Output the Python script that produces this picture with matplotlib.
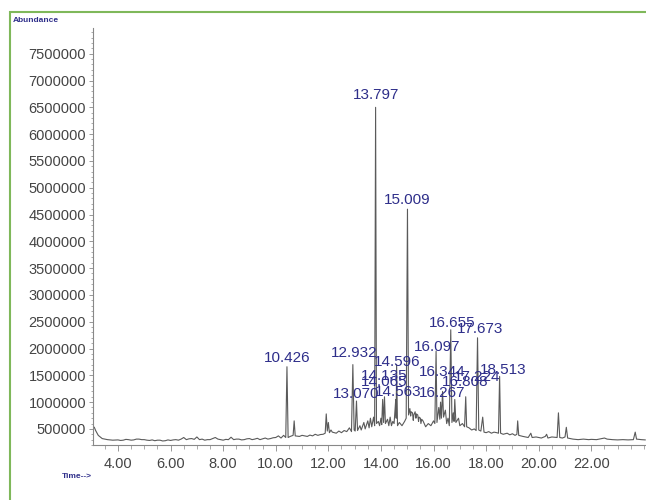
import matplotlib
matplotlib.use("Agg")
import matplotlib.pyplot as plt
from matplotlib.patches import Rectangle
from matplotlib.ticker import MultipleLocator, FixedLocator

# ---- data (time in min, abundance in counts/1000) ----
times = [3.10, 3.15, 3.25, 3.40, 3.6, 3.8, 4.0, 4.1, 4.2, 4.3, 4.4, 4.5, 4.6, 4.7, 4.8, 4.9,
         5.0, 5.1, 5.2, 5.3, 5.4, 5.5, 5.6, 5.7, 5.8, 5.9,
         6.0, 6.1, 6.2, 6.3, 6.4, 6.5, 6.6, 6.7, 6.8, 6.9, 7.0, 7.1, 7.2, 7.3, 7.4, 7.5, 7.6,
         7.7, 7.8, 7.9, 8.0, 8.1, 8.2, 8.3, 8.4, 8.5, 8.6, 8.7,
         8.8, 8.9, 9.0, 9.1, 9.2, 9.3, 9.4, 9.5, 9.6, 9.7, 9.8, 9.9, 10.0, 10.1, 10.2, 10.3,
         10.38, 10.426, 10.47, 10.55,
         10.66, 10.7, 10.74, 10.9, 11.0, 11.1, 11.2, 11.3, 11.4, 11.5, 11.6, 11.7, 11.8, 11.88,
         11.92, 11.96,
         12.0, 12.04, 12.1, 12.15, 12.3, 12.4, 12.5, 12.6, 12.7, 12.8, 12.88, 12.932, 12.98,
         13.02, 13.07, 13.11, 13.2, 13.25, 13.35, 13.4, 13.5, 13.55, 13.6, 13.65, 13.72, 13.76,
         13.797, 13.83, 13.9, 13.95, 14.0, 14.03, 14.065, 14.1, 14.135, 14.17, 14.25, 14.3,
         14.35, 14.4, 14.45, 14.5, 14.563, 14.58, 14.596, 14.63, 14.7, 14.8, 14.9, 14.96,
         15.009, 15.05, 15.1, 15.13, 15.15, 15.2, 15.23, 15.25, 15.3, 15.33, 15.35, 15.4,
         15.43, 15.45, 15.5, 15.52, 15.55, 15.6,
         15.7, 15.8, 15.9, 16.0, 16.05, 16.097, 16.13, 16.2, 16.24, 16.267, 16.3, 16.344,
         16.38, 16.45, 16.5, 16.55, 16.6, 16.655, 16.7, 16.75, 16.78, 16.808, 16.85, 16.95,
         17.0, 17.1, 17.18, 17.224, 17.26, 17.35, 17.45, 17.55, 17.62, 17.673, 17.72, 17.8,
         17.87, 17.92, 18.0, 18.1, 18.2, 18.3, 18.4, 18.47, 18.513, 18.55, 18.65, 18.8, 18.9,
         19.0, 19.1, 19.17, 19.2, 19.24, 19.4, 19.6, 19.7, 19.75, 19.9, 20.1, 20.25, 20.3,
         20.35, 20.5, 20.7, 20.75, 20.8, 20.9, 21.0, 21.05, 21.1, 21.3, 21.5, 21.7, 21.9, 22.0,
         22.2, 22.5, 22.6, 22.8, 23.0, 23.2, 23.4, 23.6, 23.67, 23.72, 23.9, 24.05]
abund_k = [530, 470, 380, 320, 300, 290, 295, 285, 290, 305, 300, 290, 295, 310, 310, 300,
           300, 290, 285, 295, 280, 290, 290, 275, 280, 295,
           285, 295, 300, 290, 310, 340, 300, 315, 320, 305, 350, 300, 310, 290, 300, 300, 320,
           340, 310, 300, 290, 305, 300, 345, 300, 310, 310, 295,
           300, 315, 320, 300, 310, 325, 300, 315, 330, 310, 320, 335, 340, 370, 330, 380,
           340, 1660, 340, 360,
           380, 650, 370, 360, 380, 370, 360, 385, 370, 400, 380, 395, 400, 420,
           780, 460,
           620, 430, 480, 440, 420, 460, 430, 470, 450, 520, 450, 1700, 480,
           460, 1020, 470, 560, 480, 620, 500, 650, 520, 700, 540, 720, 560,
           6500, 600, 640, 560, 700, 580, 1050, 620, 1100, 600, 680, 560,
           720, 560, 640, 600, 1050, 700, 1700, 560, 620, 560, 640, 700,
           4600, 760, 880, 740, 820, 800, 660, 760, 820, 700, 780, 760,
           640, 720, 700, 600, 680, 650,
           540, 600, 560, 650, 600, 1950, 620, 900, 680, 1000, 700, 1200,
           720, 850, 600, 700, 560, 2350, 620, 800, 640, 1050, 620, 700,
           560, 600, 540, 1100, 540, 520, 480, 500, 470, 2200, 480, 460,
           720, 440, 430, 450, 420, 440, 430, 420, 1480, 420, 400, 420, 390,
           410, 380, 400, 650, 380, 360, 340, 420, 340, 350, 330, 360, 400,
           330, 350, 340, 800, 340, 330, 350, 530, 330, 310, 300, 310, 300, 305,
           300, 330, 310, 300, 295, 300, 295, 300, 440, 310, 300, 295]

# peak labels
label_text = ["10.426", "12.932", "13.070", "13.797", "14.065", "14.135", "14.563", "14.596",
              "15.009", "16.097", "16.267", "16.344", "16.655", "16.808", "17.224", "17.673",
              "18.513"]
label_t = [10.43, 12.97, 13.05, 13.80, 14.11, 14.11, 14.65, 14.62,
           15.01, 16.13, 16.32, 16.32, 16.70, 17.19, 17.65, 17.76, 18.64]
label_k = [1825, 1920, 1150, 6730, 1380, 1490, 1190, 1750,
           4770, 2030, 1170, 1560, 2480, 1380, 1470, 2370, 1600]

yticks = list(range(500000, 7500001, 500000))
xticks = [4, 6, 8, 10, 12, 14, 16, 18, 20, 22]

# ---- figure ----
W, H = 646, 500
fig = plt.figure(figsize=(W / 100, H / 100), dpi=100)
fig.patches.append(Rectangle((10 / W, -0.05), 1.2, 1 - 12 / H + 0.05,
                             transform=fig.transFigure, fill=False,
                             edgecolor="#7fb85a", linewidth=1.5))

ax = fig.add_axes([93 / W, 55 / H, 1 - 93 / W, (445 - 28) / H])
ax.plot(times, [v * 1000 for v in abund_k], color="#5a5a5a", linewidth=0.8)

ax.set_xlim(3.05, 24.08)
ax.set_ylim(200000, 7980000)

for s in ["top", "right"]:
    ax.spines[s].set_visible(False)
for s in ["left", "bottom"]:
    ax.spines[s].set_color("#888888")
    ax.spines[s].set_linewidth(0.8)

ax.yaxis.set_major_locator(FixedLocator(yticks))
ax.set_yticklabels([str(v) for v in yticks])
ax.yaxis.set_minor_locator(MultipleLocator(100000))
ax.xaxis.set_major_locator(FixedLocator(xticks))
ax.set_xticklabels(["%.2f" % v for v in xticks])
ax.xaxis.set_minor_locator(MultipleLocator(0.5))

ax.tick_params(axis="both", which="both", colors="#888888", labelcolor="#444444",
               labelsize=10.5, direction="out")
ax.tick_params(axis="y", which="major", length=3, width=0.6, pad=2)
ax.tick_params(axis="y", which="minor", length=1.5, width=0.5)
ax.tick_params(axis="x", which="major", length=4, width=0.6, pad=5)
ax.tick_params(axis="x", which="minor", length=3, width=0.5)
for lab in ax.get_xticklabels() + ax.get_yticklabels():
    lab.set_family("Liberation Sans")

for txt, t, k in zip(label_text, label_t, label_k):
    ax.text(t, k * 1000, txt, ha="center", va="center", color="#2e2e8a",
            fontsize=11, family="Liberation Sans")

fig.text(13 / W, 1 - 20 / H, "Abundance", color="#2e2e8a", fontsize=6,
         fontweight="bold", family="Liberation Sans", va="center")
fig.text(62 / W, 1 - 476 / H, "Time-->", color="#2e2e8a", fontsize=6,
         fontweight="bold", family="Liberation Sans", va="center")

fig.savefig("out.png", dpi=100)
